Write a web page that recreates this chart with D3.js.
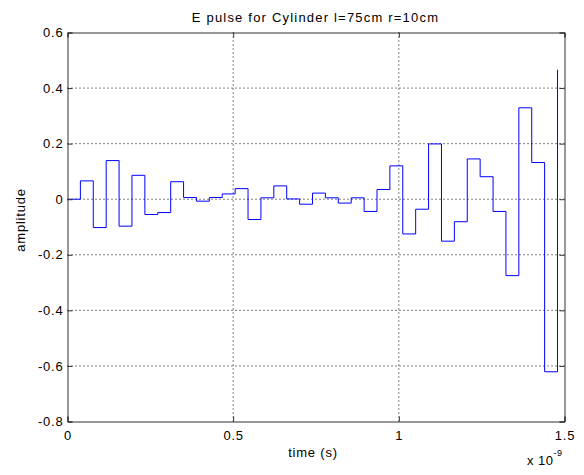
<!DOCTYPE html>
<html>
<head>
<meta charset="utf-8">
<script src="https://cdn.jsdelivr.net/npm/d3@7"></script>
<style>
  body { margin: 0; background: #fff; }
  text { font-family: "Liberation Sans", Arial, sans-serif; fill: #000; }
</style>
</head>
<body>
<div id="chart"></div>
<script>
// Sample times in units of 1e-9 s (axis shows "x 10^-9")
const times = [0, 0.0389, 0.0778, 0.1168, 0.1557, 0.1946, 0.2335, 0.2724, 0.3114, 0.3503,
  0.3892, 0.4281, 0.4670, 0.5060, 0.5449, 0.5838, 0.6227, 0.6616, 0.7006, 0.7395,
  0.7784, 0.8173, 0.8562, 0.8952, 0.9341, 0.9730, 1.0119, 1.0508, 1.0898, 1.1287,
  1.1676, 1.2065, 1.2454, 1.2844, 1.3233, 1.3622, 1.4011, 1.4400, 1.4790];

// E pulse amplitude
const amplitude = [0, 0.066, -0.102, 0.139, -0.097, 0.086, -0.055, -0.048, 0.063, 0.006,
  -0.007, 0.006, 0.019, 0.038, -0.073, 0.005, 0.048, 0.001, -0.018, 0.022,
  0.005, -0.014, 0.005, -0.044, 0.035, 0.120, -0.125, -0.036, 0.199, -0.151,
  -0.081, 0.145, 0.081, -0.044, -0.275, 0.329, 0.132, -0.621, 0.466];

const xTicks = [0, 0.5, 1, 1.5];
const yTicks = [-0.8, -0.6, -0.4, -0.2, 0, 0.2, 0.4, 0.6];

const svgWidth = 584, svgHeight = 475;
const plotLeft = 67, plotRight = 564, plotTop = 32, plotBottom = 421;
const fontSize = "13px", spacing = "0.8px";

const svg = d3.select("#chart").append("svg")
    .attr("width", svgWidth)
    .attr("height", svgHeight);

const x = d3.scaleLinear().domain([0, 1.5]).range([plotLeft, plotRight]);
const y = d3.scaleLinear().domain([-0.8, 0.6]).range([plotBottom, plotTop]);

const g = svg.append("g").attr("transform", "translate(0.5,0.5)");

// dotted grid
g.selectAll(".vgrid")
    .data(xTicks.slice(1, -1))
    .enter().append("line")
    .attr("x1", d => x(d)).attr("x2", d => x(d))
    .attr("y1", plotTop).attr("y2", plotBottom)
    .attr("stroke", "#000").attr("stroke-dasharray", "1,3");

g.selectAll(".hgrid")
    .data(yTicks.slice(1, -1))
    .enter().append("line")
    .attr("x1", plotLeft).attr("x2", plotRight)
    .attr("y1", d => y(d)).attr("y2", d => y(d))
    .attr("stroke", "#000").attr("stroke-dasharray", "1,3");

// stairs line
const line = d3.line()
    .x((d, i) => x(times[i]))
    .y(d => y(d))
    .curve(d3.curveStepAfter);

g.append("path")
    .datum(amplitude)
    .attr("fill", "none")
    .attr("stroke", "#0000ff")
    .attr("stroke-width", 1)
    .attr("d", line);

// axes with inward ticks, box on
const tickLen = 5;
const fmt = d => String(d);
g.append("g").attr("transform", `translate(0,${plotBottom})`)
    .call(d3.axisBottom(x).tickValues(xTicks).tickSize(-tickLen).tickPadding(9).tickFormat(fmt));
g.append("g").attr("transform", `translate(0,${plotTop})`)
    .call(d3.axisTop(x).tickValues(xTicks).tickSize(-tickLen).tickFormat(""));
g.append("g").attr("transform", `translate(${plotLeft},0)`)
    .call(d3.axisLeft(y).tickValues(yTicks).tickSize(-tickLen).tickPadding(4).tickFormat(fmt));
g.append("g").attr("transform", `translate(${plotRight},0)`)
    .call(d3.axisRight(y).tickValues(yTicks).tickSize(-tickLen).tickFormat(""));

g.selectAll(".domain").attr("stroke", "#333");
g.selectAll(".tick line").attr("stroke", "#333");
g.selectAll(".tick text")
    .style("font-family", "'Liberation Sans', Arial, sans-serif")
    .style("font-size", fontSize)
    .style("letter-spacing", spacing)
    .attr("fill", "#000");

// labels
svg.append("text")
    .attr("x", (plotLeft + plotRight) / 2).attr("y", 22)
    .attr("text-anchor", "middle")
    .style("font-size", fontSize).style("letter-spacing", "1.2px")
    .text("E pulse for Cylinder l=75cm r=10cm");

svg.append("text")
    .attr("x", 313).attr("y", 457)
    .attr("text-anchor", "middle")
    .style("font-size", fontSize).style("letter-spacing", spacing)
    .text("time (s)");

svg.append("text")
    .attr("transform", "translate(25,220) rotate(-90)")
    .attr("text-anchor", "middle")
    .style("font-size", fontSize).style("letter-spacing", spacing)
    .text("amplitude");

const expo = svg.append("text")
    .attr("x", 527).attr("y", 465)
    .style("font-size", fontSize).style("letter-spacing", "0.5px");
expo.append("tspan").text("x 10");
expo.append("tspan").attr("dy", -9).style("font-size", "9px").text("-9");
</script>
</body>
</html>
